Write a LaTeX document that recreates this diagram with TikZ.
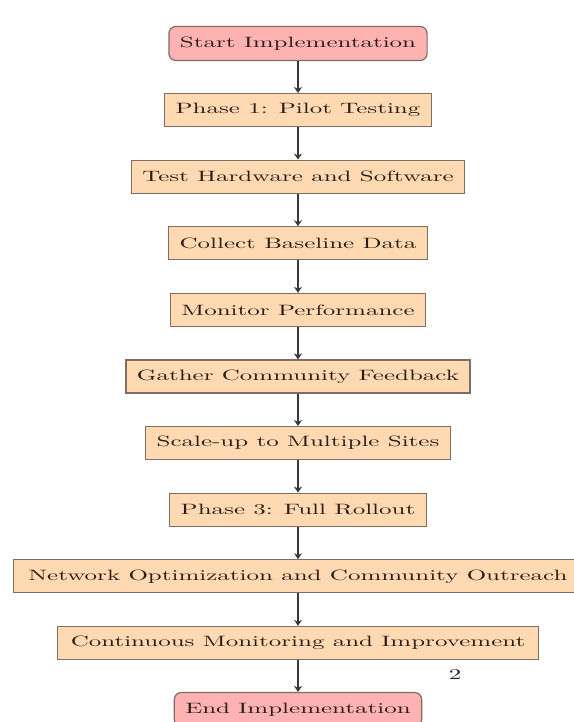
\documentclass[tikz,border=0pt]{standalone}
\usepackage{graphicx}
\usetikzlibrary{arrows.meta}

% widened lettering used for every label
\newcommand{\widetext}[1]{\scalebox{2.5}[1.5]{#1}}

\definecolor{textink}{RGB}{40,30,25}
\definecolor{edgeink}{RGB}{125,110,100}

\tikzset{
  terminal/.style={rectangle, rounded corners=7pt, draw=edgeink, line width=1.2pt,
    fill=red!30, text=textink, minimum height=34pt, inner xsep=11pt, inner ysep=2pt},
  stepbox/.style={rectangle, draw=edgeink, line width=1.2pt,
    fill=orange!30, text=textink, minimum height=33pt, inner xsep=11pt, inner ysep=2pt},
  flow/.style={draw=black!78, line width=2.9pt, -{Stealth[length=6pt,width=8pt]}},
}

\begin{document}
\begin{tikzpicture}[x=1pt, y=-1pt]
  \useasboundingbox (0,0) rectangle (573,722);

  \node[terminal] (start) at (298,43.5)  {\widetext{Start Implementation}};
  \node[stepbox]  (pilot) at (298,110.1) {\widetext{Phase 1: Pilot Testing}};
  \node[stepbox]  (hw)    at (298,176.7) {\widetext{Test Hardware and Software}};
  \node[stepbox]  (base)  at (298,243.3) {\widetext{Collect Baseline Data}};
  \node[stepbox]  (mon)   at (298,309.9) {\widetext{Monitor Performance}};
  \node[stepbox]  (fb)    at (298,376.5) {\widetext{Gather Community Feedback}};
  \node[stepbox]  (scale) at (298,443.1) {\widetext{Scale-up to Multiple Sites}};
  \node[stepbox]  (roll)  at (298,509.7) {\widetext{Phase 3: Full Rollout}};
  \node[stepbox, inner xsep=15pt] (net) at (298,576.3) {\widetext{Network Optimization and Community Outreach}};
  \node[stepbox, inner xsep=13pt] (cont) at (298,642.9) {\widetext{Continuous Monitoring and Improvement}};
  \node[terminal] (stop)  at (298,709.5) {\widetext{End Implementation}};

  % page number
  \node[text=textink] (pagenum) at (455,674) {\widetext{2}};

  \draw[flow] (start) -- (pilot);
  \draw[flow] (pilot) -- (hw);
  \draw[flow] (hw) -- (base);
  \draw[flow] (base) -- (mon);
  \draw[flow] (mon) -- (fb);
  \draw[flow] (fb) -- (scale);
  \draw[flow] (scale) -- (roll);
  \draw[flow] (roll) -- (net);
  \draw[flow] (net) -- (cont);
  \draw[flow] (cont) -- (stop);
\end{tikzpicture}
\end{document}
